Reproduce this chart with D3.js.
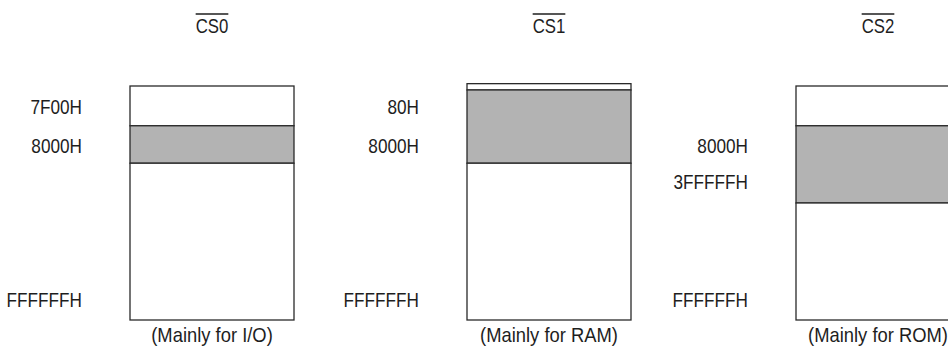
<!DOCTYPE html>
<html>
<head>
<meta charset="utf-8">
<script src="https://cdn.jsdelivr.net/npm/d3@7"></script>
<style>
  html, body { margin: 0; padding: 0; background: #fff; }
  svg text { font-family: "Liberation Sans", Arial, sans-serif; font-size: 20px; fill: #1e1e1e; }
</style>
</head>
<body>
<svg id="chart" width="948" height="350"></svg>
<script>
// chip select areas
var chips = ["CS0", "CS1", "CS2"];
var usage = ["(Mainly for I/O)", "(Mainly for RAM)", "(Mainly for ROM)"];

// region bounds inside each map, 0 = top of map, 100 = bottom
var regionStart = [[0, 17, 33], [-1, 1.7, 33], [0, 17, 50]];
var regionEnd = [[17, 33, 100], [1.7, 33, 100], [17, 50, 100]];
var regionShaded = [[false, true, false], [false, true, false], [false, true, false]];

// address labels and where they sit on the map
var addrText = [
  ["7F00H", "8000H", "FFFFFFH"],
  ["80H", "8000H", "FFFFFFH"],
  ["8000H", "3FFFFFH", "FFFFFFH"]
];
var addrLevel = [
  [9, 25.6, 91.5],
  [9, 25.6, 91.5],
  [25.6, 41, 91.5]
];

var svg = d3.select("#chart");
var boxW = 164;

var x = d3.scaleOrdinal().domain(chips).range([130, 467, 796]);
var y = d3.scaleLinear().domain([0, 100]).range([86, 320]);

// condensed look of the original type
function place(tx, ty, sx) {
  return "translate(" + tx + "," + ty + ") scale(" + sx + ",1)";
}

chips.forEach(function(chip, i) {
  var g = svg.append("g").attr("class", "map");
  var left = x(chip);
  var cx = left + boxW / 2;

  var regions = regionStart[i].map(function(s, j) {
    return { start: s, end: regionEnd[i][j], shaded: regionShaded[i][j] };
  });

  g.selectAll("rect")
    .data(regions)
    .enter()
    .append("rect")
    .attr("x", left)
    .attr("y", function(d) { return y(d.start); })
    .attr("width", boxW)
    .attr("height", function(d) { return y(d.end) - y(d.start); })
    .attr("fill", function(d) { return d.shaded ? "#b3b3b3" : "#fff"; })
    .attr("stroke", "#2a2a2a")
    .attr("stroke-width", 1.3);

  var labels = addrText[i].map(function(t, j) {
    return { text: t, level: addrLevel[i][j] };
  });

  g.selectAll("text.addr")
    .data(labels)
    .enter()
    .append("text")
    .attr("class", "addr")
    .attr("transform", function(d) { return place(left - 48, y(d.level), 0.86); })
    .attr("dy", "0.36em")
    .attr("text-anchor", "end")
    .text(function(d) { return d.text; });

  // chip select name, active low
  var title = g.append("text")
    .attr("transform", place(cx, 33, 0.84))
    .attr("text-anchor", "middle")
    .text(chip);
  var w = title.node().getBBox().width * 0.84;
  g.append("line")
    .attr("x1", cx - w / 2)
    .attr("x2", cx + w / 2)
    .attr("y1", 14)
    .attr("y2", 14)
    .attr("stroke", "#1e1e1e")
    .attr("stroke-width", 1.5);

  g.append("text")
    .attr("transform", place(cx, 342, 0.92))
    .attr("text-anchor", "middle")
    .text(usage[i]);
});
</script>
</body>
</html>
